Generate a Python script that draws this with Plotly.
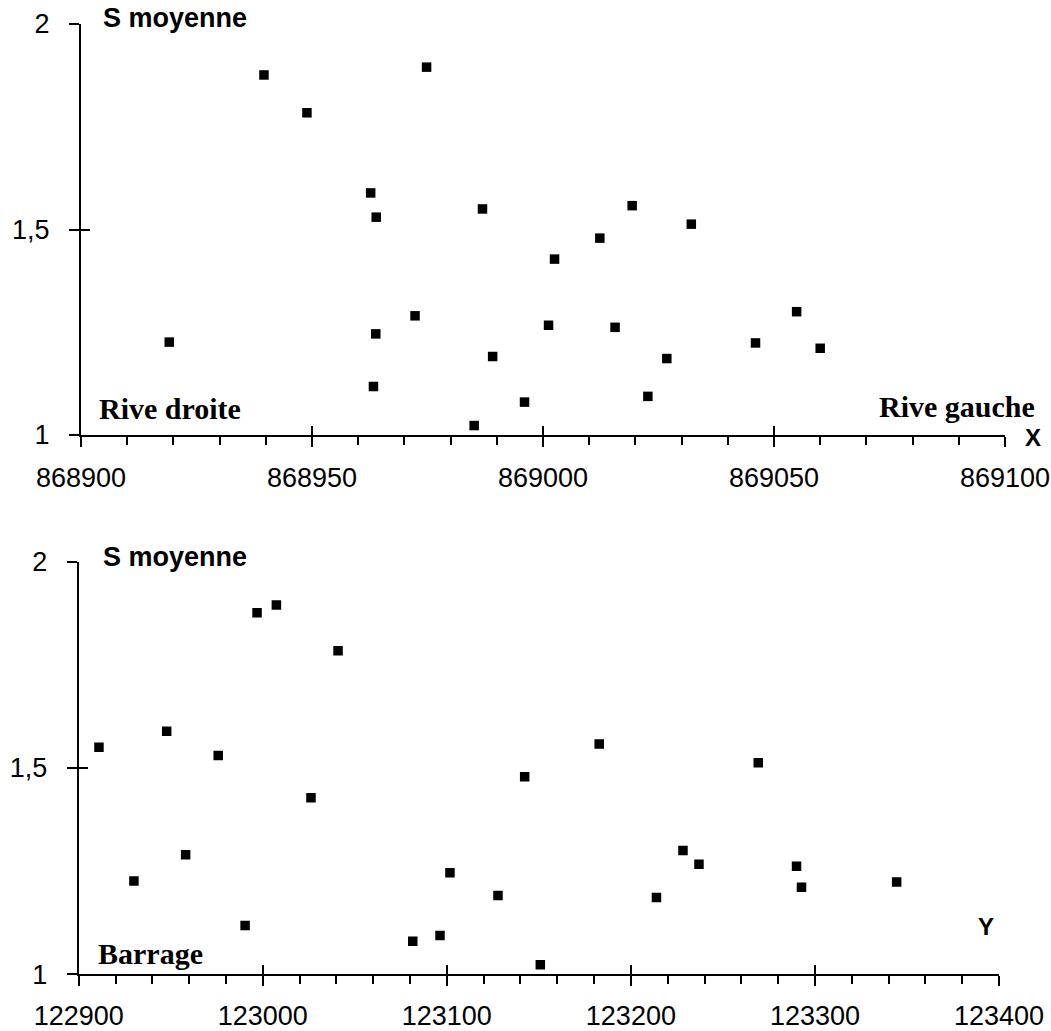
import plotly.graph_objects as go

# Mean S values (shared by both panels), X and Y coordinates of each station
S = [1.226, 1.876, 1.784, 1.895, 1.589, 1.530, 1.550, 1.290, 1.246, 1.191, 1.118, 1.023,
     1.080, 1.428, 1.267, 1.479, 1.558, 1.262, 1.186, 1.094, 1.513, 1.224, 1.300, 1.211]
X = [868919.1, 868939.6, 868948.9, 868974.8, 868962.7, 868963.9, 868986.9, 868972.3,
     868963.8, 868989.1, 868963.3, 868985.1, 868996.0, 869002.5, 869001.2, 869012.3,
     869019.3, 869015.6, 869026.8, 869022.7, 869032.1, 869046.0, 869054.9, 869060.0]
Y = [122930.0, 122996.9, 123040.9, 123007.4, 122947.8, 122975.8, 122911.0, 122958.1,
     123101.7, 123127.8, 122990.4, 123150.8, 123081.5, 123026.2, 123237.0, 123142.3,
     123182.8, 123290.0, 123213.9, 123096.3, 123269.2, 123344.4, 123228.3, 123292.7]

x_top_ticks = [868900, 868950, 869000, 869050, 869100]
x_top_labels = ["868900", "868950", "869000", "869050", "869100"]
x_bot_ticks = [122900, 123000, 123100, 123200, 123300, 123400]
x_bot_labels = ["122900", "123000", "123100", "123200", "123300", "123400"]
y_ticks = [1, 1.5, 2]
y_labels = ["1", "1,5", "2"]

W, H = 1051, 1031
def px(x):
    return x / W
def py(y):
    return 1 - y / H

top_xdom = [px(81), px(1005)]
top_ydom = [py(435), py(24)]
bot_xdom = [px(78.7), px(999)]
bot_ydom = [py(974.3), py(561.7)]

tickfont = dict(family="Liberation Sans, Arial, sans-serif", size=27, color="black")
base = dict(showline=True, linecolor="black", linewidth=2, ticks="outside", ticklen=10,
            tickwidth=2, tickcolor="black", showgrid=False, zeroline=False,
            tickfont=tickfont, tickmode="array", fixedrange=True, automargin=False,
            ticklabeloverflow="allow")
over = dict(showline=False, ticks="inside", ticklen=9, tickwidth=2, tickcolor="black",
            showgrid=False, zeroline=False, showticklabels=False, tickmode="array",
            fixedrange=True, automargin=False)

mk = dict(symbol="square", size=9.5, color="black", line=dict(width=0))
fig = go.Figure()
fig.add_trace(go.Scatter(x=X, y=S, mode="markers", marker=mk, xaxis="x", yaxis="y",
                         hoverinfo="skip", showlegend=False))
fig.add_trace(go.Scatter(x=Y, y=S, mode="markers", marker=mk, xaxis="x2", yaxis="y2",
                         hoverinfo="skip", showlegend=False))
fig.add_trace(go.Scatter(x=X, y=S, mode="markers", marker=dict(opacity=0), xaxis="x3",
                         yaxis="y3", hoverinfo="skip", showlegend=False))
fig.add_trace(go.Scatter(x=Y, y=S, mode="markers", marker=dict(opacity=0), xaxis="x4",
                         yaxis="y4", hoverinfo="skip", showlegend=False))

fig.update_layout(
    width=W, height=H, margin=dict(l=0, r=0, t=0, b=0, autoexpand=False),
    paper_bgcolor="white", plot_bgcolor="white", showlegend=False,
    xaxis=dict(base, domain=top_xdom, anchor="y", range=[868900, 869100],
               tickvals=x_top_ticks, ticktext=x_top_labels, ticklabelstandoff=8,
               minor=dict(ticks="outside", tickmode="linear", tick0=868900, dtick=10,
                          ticklen=8, tickwidth=2, tickcolor="black", showgrid=False)),
    yaxis=dict(base, domain=top_ydom, anchor="x", range=[1, 2],
               tickvals=y_ticks, ticktext=y_labels, ticklabelstandoff=14),
    xaxis2=dict(base, domain=bot_xdom, anchor="y2", range=[122900, 123400],
                tickvals=x_bot_ticks, ticktext=x_bot_labels, ticklabelstandoff=6,
                minor=dict(ticks="outside", tickmode="linear", tick0=122900, dtick=20,
                           ticklen=8, tickwidth=2, tickcolor="black", showgrid=False)),
    yaxis2=dict(base, domain=bot_ydom, anchor="x2", range=[1, 2],
                tickvals=y_ticks, ticktext=y_labels, ticklabelstandoff=14),
    xaxis3=dict(over, overlaying="x", anchor="y3", range=[868900, 869100],
                tickvals=x_top_ticks),
    yaxis3=dict(over, overlaying="y", anchor="x3", range=[1, 2], tickvals=y_ticks),
    xaxis4=dict(over, overlaying="x2", anchor="y4", range=[122900, 123400],
                tickvals=x_bot_ticks),
    yaxis4=dict(over, overlaying="y2", anchor="x4", range=[1, 2], tickvals=y_ticks),
)

sans_b = dict(family="Liberation Sans, Arial, sans-serif", size=27, color="black")
serif_b = dict(family="Liberation Serif, Times New Roman, serif", size=30, color="black")
annots = [
    dict(text="<b>S moyenne</b>", x=px(101), y=py(18), xanchor="left", yanchor="middle", font=sans_b),
    dict(text="<b>S moyenne</b>", x=px(101), y=py(557), xanchor="left", yanchor="middle", font=sans_b),
    dict(text="<b>Rive droite</b>", x=px(97), y=py(408), xanchor="left", yanchor="middle", font=serif_b),
    dict(text="<b>Rive gauche</b>", x=px(1037), y=py(406), xanchor="right", yanchor="middle", font=serif_b),
    dict(text="<b>Barrage</b>", x=px(96), y=py(953), xanchor="left", yanchor="middle", font=serif_b),
    dict(text="<b>X</b>", x=px(1033), y=py(437), xanchor="center", yanchor="middle",
         font=dict(family="Liberation Sans, Arial, sans-serif", size=24, color="black")),
    dict(text="<b>Y</b>", x=px(986), y=py(926), xanchor="center", yanchor="middle",
         font=dict(family="Liberation Sans, Arial, sans-serif", size=24, color="black")),
]
for a in annots:
    fig.add_annotation(xref="paper", yref="paper", showarrow=False, **a)

# remove the default page margin so the figure fills the window exactly
fig.write_html("out.html", config={"displayModeBar": False},
               post_script="document.body.style.margin='0';document.body.style.overflow='hidden';")
